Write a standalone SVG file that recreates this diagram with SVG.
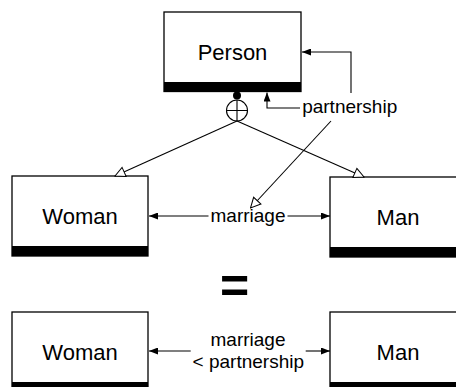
<svg xmlns="http://www.w3.org/2000/svg" width="456" height="387" viewBox="0 0 456 387">
<style>
.box{fill:#fff;stroke:#000;stroke-width:1.3}
.bar{fill:#000}
.nt{font-family:"Liberation Sans",Arial,sans-serif;font-size:22px;fill:#000;text-anchor:middle}
.lt{font-family:"Liberation Sans",Arial,sans-serif;font-size:19px;fill:#000;text-anchor:middle}
.ln{fill:none;stroke:#000;stroke-width:1.1}
</style>
<defs>
<marker id="arr" viewBox="0 0 9 7" refX="9" refY="3.5" markerWidth="9" markerHeight="7" markerUnits="userSpaceOnUse" orient="auto">
<path d="M0,0 L9,3.5 L0,7 z" fill="#000"/>
</marker>
<marker id="tri" viewBox="-1 -1 12 12" refX="10" refY="5" markerWidth="12" markerHeight="12" markerUnits="userSpaceOnUse" orient="auto">
<path d="M0,0 L10,5 L0,10 z" fill="#fff" stroke="#000" stroke-width="1"/>
</marker>
</defs>
<rect width="456" height="387" fill="#fff"/>
<g id="person">
<rect class="box" x="164" y="12" width="137" height="79.5"/>
<rect class="bar" x="164" y="82" width="137" height="9.5"/>
<text class="nt" x="232.5" y="59.5">Person</text>
</g>
<g id="woman">
<rect class="box" x="12" y="176" width="136" height="80"/>
<rect class="bar" x="12" y="246" width="136" height="10"/>
<text class="nt" x="80" y="224">Woman</text>
</g>
<g id="man">
<rect class="box" x="330" y="177" width="137" height="80"/>
<rect class="bar" x="330" y="247" width="137" height="10"/>
<text class="nt" x="398" y="225">Man</text>
</g>
<g id="woman2">
<rect class="box" x="12" y="312" width="136" height="80"/>
<rect class="bar" x="12" y="382" width="136" height="10"/>
<text class="nt" x="80" y="360">Woman</text>
</g>
<g id="man2">
<rect class="box" x="330" y="312" width="137" height="80"/>
<rect class="bar" x="330" y="382" width="137" height="10"/>
<text class="nt" x="398" y="360">Man</text>
</g>
<g id="connectors">
<circle cx="237" cy="95.5" r="4" fill="#000"/>
<circle cx="237" cy="110.5" r="10.5" class="ln"/>
<path class="ln" d="M237,100 V121 M226.5,110.5 H247.5"/>
<path class="ln" d="M237,121 L115,176" marker-end="url(#tri)"/>
<path class="ln" d="M237,121 L364,177" marker-end="url(#tri)"/>
<path class="ln" d="M300,108 H267 V92.5" marker-end="url(#arr)"/>
<path class="ln" d="M351,93 V52 H302" marker-end="url(#arr)"/>
<text class="lt" x="349.7" y="113">partnership</text>
<path class="ln" d="M331,121 L250.5,208" marker-end="url(#tri)"/>
<path class="ln" d="M208.5,216 H149" marker-end="url(#arr)"/>
<path class="ln" d="M287.5,216 H330" marker-end="url(#arr)"/>
<text class="lt" x="248" y="222">marriage</text>
<path class="ln" d="M190.7,351 H149" marker-end="url(#arr)"/>
<path class="ln" d="M305.7,351 H330" marker-end="url(#arr)"/>
<text class="lt" x="248" y="346">marriage</text>
<text class="lt" x="248.3" y="368.3">&lt; partnership</text>
</g>
<text x="234.7" y="303" font-family="Liberation Sans,Arial,sans-serif" font-size="50" font-weight="bold" text-anchor="middle">=</text>
</svg>
